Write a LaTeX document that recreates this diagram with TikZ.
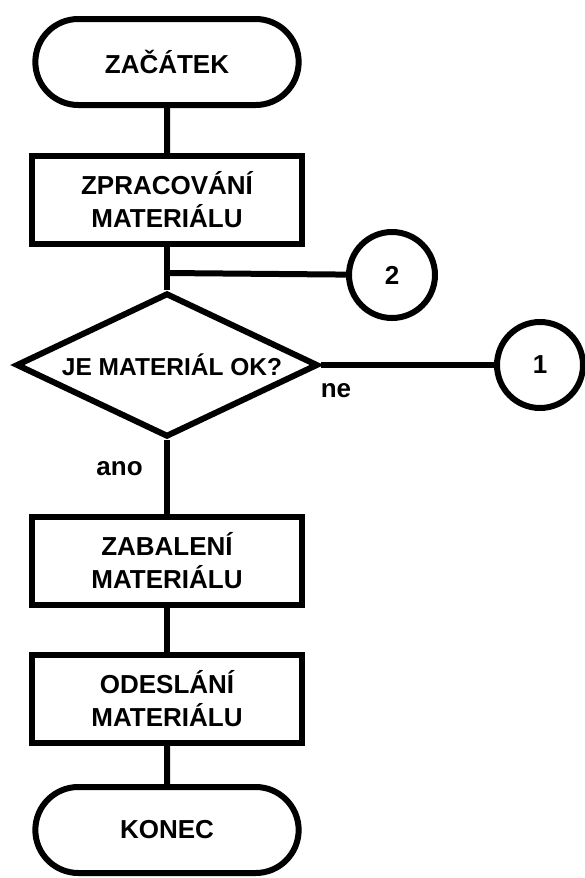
\documentclass[tikz,border=0pt]{standalone}
\usepackage{fontspec}
\setmainfont{Liberation Sans}
\usetikzlibrary{shapes.geometric,shapes.misc}
\begin{document}
\begin{tikzpicture}[x=1pt,y=-1pt,line width=6pt,
	every node/.style={font=\fontsize{26}{33}\selectfont\bfseries},
	term/.style={draw, rounded rectangle, minimum width=270pt, minimum height=86pt},
	proc/.style={draw, rectangle, align=center, minimum width=270pt, minimum height=88pt},
	decision/.style={draw, diamond, inner sep=0pt, minimum width=302pt, minimum height=144pt},
	conn/.style={draw, circle, minimum size=86pt}]
	\useasboundingbox (0,0) rectangle (584,878);
	\node[term] (start) at (167,62) {ZAČÁTEK};
	\node[proc] (work) at (167,200) {ZPRACOVÁNÍ\\MATERIÁLU};
	\node[decision, label={[font=\fontsize{24.5}{30}\selectfont\bfseries, xshift=5pt]center:JE MATERIÁL OK?}] (check) at (167,365) {};
	\node[conn] (two) at (392,275) {2};
	\node[conn] (one) at (540,365) {1};
	\node[proc] (pack) at (167,561) {ZABALENÍ\\MATERIÁLU};
	\node[proc] (send) at (167,699) {ODESLÁNÍ\\MATERIÁLU};
	\node[term] (stop) at (167,830) {KONEC};
	\coordinate (split) at (167,273);
	\draw (start) -- (work);
	\draw (work) -- (split) -- (check.north);
	\draw (split) -- (two);
	\draw (check.east) -- (one) node[pos=0.02, below right, xshift=-10pt, yshift=-12pt] (no) {ne};
	\draw (check.south) -- (pack) node[pos=0.38, left=18pt] (yes) {ano};
	\draw (pack) -- (send);
	\draw (send) -- (stop);
\end{tikzpicture}
\end{document}
